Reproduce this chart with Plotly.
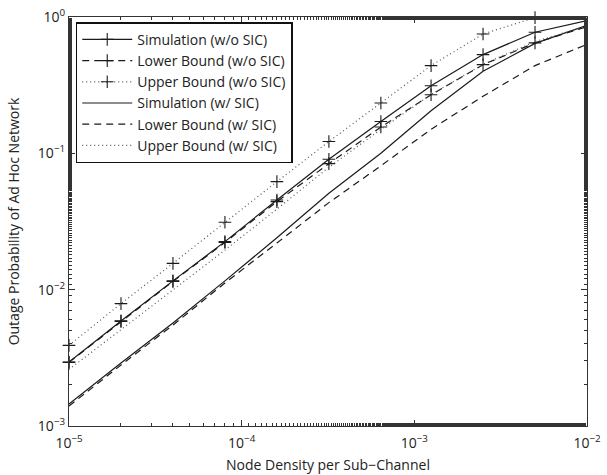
import plotly.graph_objects as go

# Node density per sub-channel (x)
density = [1e-5, 2e-5, 4e-5, 8e-5, 1.6e-4, 3.2e-4, 6.4e-4, 1.25e-3, 2.5e-3, 5e-3, 1e-2]

# Outage probability series
sim_wo = [2.95e-3, 5.9e-3, 1.16e-2, 2.25e-2, 4.55e-2, 0.0905, 0.171, 0.313, 0.53, 0.773, 0.94]
low_wo = [2.93e-3, 5.85e-3, 1.15e-2, 2.22e-2, 4.42e-2, 0.0840, 0.156, 0.269, 0.447, 0.646, 0.85]
up_wo = [3.9e-3, 7.9e-3, 1.56e-2, 3.12e-2, 6.2e-2, 0.122, 0.234, 0.44, 0.75, 0.99, 1.0]
sim_w = [1.45e-3, 2.9e-3, 5.7e-3, 1.16e-2, 2.4e-2, 5.1e-2, 0.10, 0.205, 0.40, 0.64, 0.87]
low_w = [1.4e-3, 2.8e-3, 5.5e-3, 1.12e-2, 2.2e-2, 4.35e-2, 0.081, 0.15, 0.262, 0.44, 0.63]
up_w = [2.6e-3, 5.1e-3, 1.0e-2, 1.95e-2, 3.9e-2, 0.079, 0.15, 0.27, 0.45, 0.66, 0.86]

names = ["Simulation (w/o SIC)", "Lower Bound (w/o SIC)", "Upper Bound (w/o SIC)",
         "Simulation (w/ SIC)", "Lower Bound (w/ SIC)", "Upper Bound (w/ SIC)"]

x_tickvals = [1e-5, 1e-4, 1e-3, 1e-2]
x_ticktext = ["10<sup>\u22125</sup>", "10<sup>\u22124</sup>", "10<sup>\u22123</sup>", "10<sup>\u22122</sup>"]
y_tickvals = [1e-3, 1e-2, 1e-1, 1e0]
y_ticktext = ["10<sup>\u22123</sup>", "10<sup>\u22122</sup>", "10<sup>\u22121</sup>", "10<sup>0</sup>"]

series = [sim_wo, low_wo, up_wo, sim_w, low_w, up_w]
dashes = ["solid", "7px,5px", "1px,3px", "solid", "7px,5px", "1px,3px"]
with_markers = [True, True, True, False, False, False]
line_colors = ["#1a1a1a", "#1a1a1a", "#555555", "#1a1a1a", "#1a1a1a", "#555555"]

fig = go.Figure()
for i, (ys, nm) in enumerate(zip(series, names)):
    fig.add_trace(go.Scatter(
        x=density, y=ys, name=nm,
        mode="lines+markers" if with_markers[i] else "lines",
        line=dict(color=line_colors[i], width=1.2, dash=dashes[i]),
        marker=dict(symbol="cross-thin", size=9,
                    line=dict(width=1.1, color="#1a1a1a")),
        cliponaxis=False,
        legendgroup=str(i),
    ))

font_family = "Open Sans, Lato, DejaVu Sans, sans-serif"

fig.update_layout(
    width=607, height=475,
    paper_bgcolor="white", plot_bgcolor="white",
    margin=dict(l=69, r=20, t=17, b=49),
    font=dict(family=font_family, size=13, color="#222"),
    showlegend=True,
    legend=dict(
        x=0.013, y=0.987, xanchor="left", yanchor="top",
        bordercolor="#111", borderwidth=1.5, bgcolor="white",
        font=dict(size=14, family=font_family, color="#222"),
        tracegroupgap=0, itemwidth=50, entrywidth=225, entrywidthmode="pixels",
    ),
    xaxis=dict(
        type="log", range=[-5, -2], automargin=False,
        tickvals=x_tickvals, ticktext=x_ticktext,
        ticks="inside", ticklen=6, tickcolor="#333",
        showline=True, linecolor="#333", linewidth=1.2, mirror="ticks",
        showgrid=False, zeroline=False,
        minor=dict(ticks="inside", ticklen=3, tickcolor="#333", showgrid=False),
        title=dict(text="Node Density per Sub\u2212Channel", font=dict(size=14), standoff=9),
        tickfont=dict(size=14),
        ticklabelstandoff=4, ticklabeloverflow="allow",
    ),
    yaxis=dict(
        type="log", range=[-3, 0], automargin=False,
        tickvals=y_tickvals, ticktext=y_ticktext,
        ticks="inside", ticklen=6, tickcolor="#333",
        showline=True, linecolor="#333", linewidth=1.2, mirror="ticks",
        showgrid=False, zeroline=False,
        minor=dict(ticks="inside", ticklen=3, tickcolor="#333", showgrid=False),
        title=dict(text="Outage Probability of Ad Hoc Network", font=dict(size=14), standoff=14),
        tickfont=dict(size=14),
        ticklabeloverflow="allow",
    ),
)

fig.write_html("out.html", config={"displayModeBar": False},
               post_script="document.body.style.margin='0';")
